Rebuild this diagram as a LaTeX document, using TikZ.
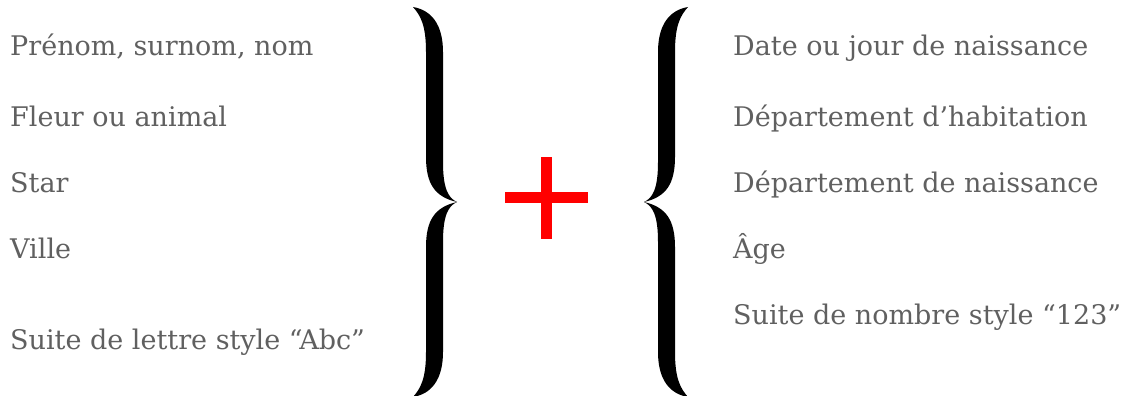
\documentclass[tikz,border=0pt]{standalone}
\usepackage{fontspec}
\setmainfont{DejaVu Serif}
\definecolor{txtgray}{RGB}{96,96,96}
\definecolor{plusred}{RGB}{255,0,0}
\tikzset{
  item/.style={anchor=base west, inner sep=0pt, text=txtgray, font=\fontsize{27}{30}\selectfont},
  bracefill/.style={fill=black, draw=none},
  rbrace/.pic={
    \path[bracefill] (0,0)
      .. controls (-9,4) and (-14,14) .. (-14,40)
      -- (-14,150)
      .. controls (-14,178) and (-26,192) .. (-44,195)
      .. controls (-36,186) and (-31,176) .. (-31,150)
      -- (-31,45)
      .. controls (-31,18) and (-22,5) .. (0,0)
      .. controls (-22,-5) and (-31,-18) .. (-31,-45)
      -- (-31,-150)
      .. controls (-31,-176) and (-36,-186) .. (-44,-195)
      .. controls (-26,-192) and (-14,-178) .. (-14,-150)
      -- (-14,-40)
      .. controls (-14,-14) and (-9,-4) .. (0,0) -- cycle;
  }
}
\begin{document}
\begin{tikzpicture}[x=1pt,y=-1pt]
\useasboundingbox (0,0) rectangle (1125,396);
% left column
\node[item] (l1) at (10,56) {Prénom, surnom, nom};
\node[item] (l2) at (10,126) {Fleur ou animal};
\node[item] (l3) at (10,192) {Star};
\node[item] (l4) at (10,258) {Ville};
\node[item] (l5) at (10,349) {Suite de lettre style “Abc”};
% right column
\node[item] (r1) at (733,56) {Date ou jour de naissance};
\node[item] (r2) at (733,126) {Département d’habitation};
\node[item] (r3) at (733,192) {Département de naissance};
\node[item] (r4) at (733,258) {Âge};
\node[item] (r5) at (733,324) {Suite de nombre style “123”};
% braces
\pic at (457,202) {rbrace};
\pic[xscale=-1] at (644,202) {rbrace};
% plus
\fill[plusred] (541,157) rectangle (552,239);
\fill[plusred] (505,192) rectangle (588,203);
\end{tikzpicture}
\end{document}
